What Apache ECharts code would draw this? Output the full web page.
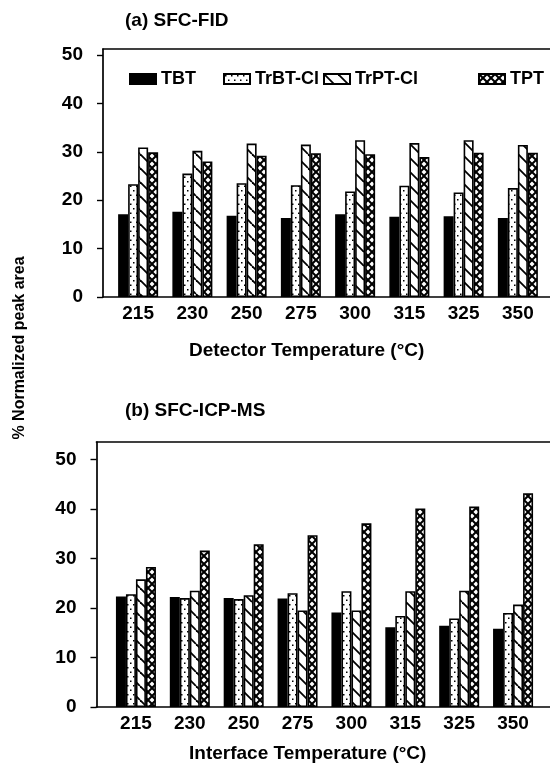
<!DOCTYPE html>
<html><head><meta charset="utf-8">
<script src="https://cdn.jsdelivr.net/npm/echarts@6/dist/echarts.min.js"></script>
<style>html,body{margin:0;padding:0;background:#fff}#c{width:550px;height:765px}</style>
</head><body><div id="c"></div>
<script>
// ---- data ----
const categories = ['215','230','250','275','300','315','325','350'];
const seriesNames = ['TBT','TrBT-Cl','TrPT-Cl','TPT'];
const yTicks = [0,10,20,30,40,50];
// (a) SFC-FID
const fidTBT  = [17.1,17.6,16.8,16.3,17.1,16.6,16.7,16.3];
const fidTrBT = [23.3,25.5,23.5,23.1,21.8,23.0,21.6,22.5];
const fidTrPT = [30.9,30.2,31.7,31.5,32.4,31.8,32.4,31.4];
const fidTPT  = [29.9,28.0,29.2,29.7,29.5,28.9,29.8,29.8];
// (b) SFC-ICP-MS
const icpTBT  = [22.3,22.2,22.0,21.9,19.1,16.1,16.4,15.8];
const icpTrBT = [22.8,22.0,21.8,23.0,23.4,18.4,17.9,19.0];
const icpTrPT = [25.8,23.5,22.6,19.5,19.5,23.4,23.5,20.7];
const icpTPT  = [28.3,31.6,32.9,34.7,37.1,40.1,40.5,43.2];

// ---- patterns ----
function pat(w,h,draw){
  const c=document.createElement('canvas');c.width=w;c.height=h;
  const g=c.getContext('2d');g.fillStyle='#fff';g.fillRect(0,0,w,h);
  g.strokeStyle='#000';g.fillStyle='#000';draw(g,w,h);
  return {image:c,repeat:'repeat'};
}
const solidFill='#000';
const dotFill=pat(6,9,g=>{g.fillRect(1,1,1.5,1.5);g.fillRect(4,5.5,1.5,1.5);});
const diagFill=pat(14,14,(g,w,h)=>{g.lineWidth=1.8;[-w,0,w].forEach(k=>{g.beginPath();g.moveTo(k,0);g.lineTo(k+w,h);g.stroke();});});
const crossFill=pat(8,8,(g,w,h)=>{g.lineWidth=2;[-w,0,w].forEach(k=>{g.beginPath();g.moveTo(k,0);g.lineTo(k+w,h);g.stroke();g.beginPath();g.moveTo(k+w,0);g.lineTo(k,h);g.stroke();});});
const fills=[solidFill,dotFill,diagFill,crossFill];

const FONT='Liberation Sans';
const txt={color:'#000',fontFamily:FONT,fontWeight:'bold'};

function barSeries(name,data,fill,axisIdx){
  return {type:'bar',name,data,xAxisIndex:axisIdx,yAxisIndex:axisIdx,
    barWidth:10,barGap:'0%',
    itemStyle:{color:fill,borderColor:'#000',borderWidth:1.6},
    emphasis:{disabled:true},animation:false};
}

const panels=[
  {plot:{left:111,right:5,top:55,bottom:468},frame:{left:103,right:0,top:49,bottom:468},yOffset:8,
   data:[fidTBT,fidTrBT,fidTrPT,fidTPT]},
  {plot:{left:109,right:10,top:459.5,bottom:58},frame:{left:96.5,right:0,top:442,bottom:58},yOffset:12.5,
   data:[icpTBT,icpTrBT,icpTrPT,icpTPT]}
];

const grid=[],xAxis=[],yAxis=[],series=[];
panels.forEach((p,i)=>{
  grid.push(p.plot);
  xAxis.push({type:'category',gridIndex:i,data:categories,
    axisLine:{show:false},axisTick:{show:false},
    axisLabel:Object.assign({fontSize:19,margin:7},txt)});
  yAxis.push({type:'value',gridIndex:i,min:yTicks[0],max:yTicks[yTicks.length-1],interval:10,offset:p.yOffset,
    axisLine:{show:false},splitLine:{show:false},
    axisTick:{show:true,length:6,lineStyle:{color:'#000',width:1.4}},
    axisLabel:Object.assign({fontSize:19,margin:20},txt)});
  p.data.forEach((d,k)=>series.push(barSeries(seriesNames[k],d,fills[k],i)));
});
// frame grids
panels.forEach((p,i)=>{
  const gi=grid.length;
  grid.push(p.frame);
  const hidden={axisTick:{show:false},axisLabel:{show:false},splitLine:{show:false}};
  xAxis.push(Object.assign({type:'value',gridIndex:gi,min:0,max:1,position:'bottom',
    axisLine:{show:true,lineStyle:{color:'#000',width:1.7}}},hidden));
  xAxis.push(Object.assign({type:'value',gridIndex:gi,min:0,max:1,position:'top',
    axisLine:{show:true,lineStyle:{color:'#000',width:1.7}}},hidden));
  yAxis.push(Object.assign({type:'value',gridIndex:gi,min:0,max:1,
    axisLine:{show:true,lineStyle:{color:'#000',width:1.7}}},hidden));
});

const legendLefts=[129,223,323,478];
const legend=seriesNames.map((n,k)=>({data:[n],left:legendLefts[k],top:70,icon:'rect',
  itemWidth:26,itemHeight:10,textStyle:Object.assign({fontSize:18},txt),selectedMode:false,padding:0}));

const option={
  backgroundColor:'#fff',
  animation:false,
  title:[
    {text:'(a) SFC-FID',left:120,top:6,textStyle:Object.assign({fontSize:19},txt)},
    {text:'(b) SFC-ICP-MS',left:120,top:396,textStyle:Object.assign({fontSize:19},txt)},
    {text:'Detector Temperature (°C)',left:184,top:336,textStyle:Object.assign({fontSize:19},txt)},
    {text:'Interface Temperature (°C)',left:184,top:739,textStyle:Object.assign({fontSize:19},txt)}
  ],
  legend,
  graphic:[{type:'text',x:20,y:348,rotation:Math.PI/2,
    style:{text:'% Normalized peak area',align:'center',verticalAlign:'middle',
      font:'bold 16px "Liberation Sans"',fill:'#000'}}],
  grid,xAxis,yAxis,series
};
const chart=echarts.init(document.getElementById('c'));
chart.setOption(option);
</script></body></html>
